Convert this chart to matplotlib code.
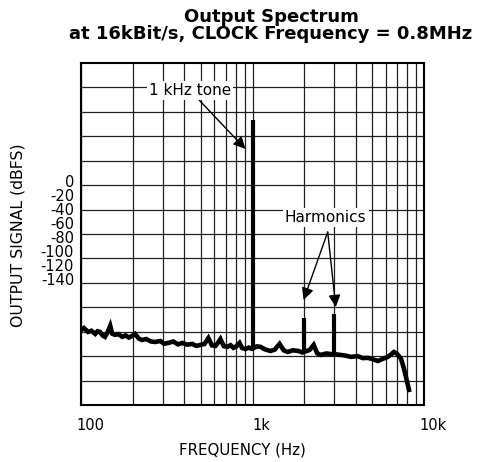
import numpy as np
import matplotlib
matplotlib.use("Agg")
import matplotlib.pyplot as plt
from matplotlib.ticker import FixedLocator, NullFormatter
from matplotlib.transforms import ScaledTranslation

plt.rcParams['font.family'] = ['DejaVu Sans']

# noise floor trace (Hz, dBFS)
noise_freq = [100, 104, 110, 115, 121, 125, 129, 134, 138, 143, 148, 152, 158, 165,
              174, 182, 190, 199, 207, 217, 227, 240, 256, 271, 290, 305, 323, 345,
              368, 390, 415, 446, 470, 497, 525, 553, 580, 608, 630, 650, 680, 714,
              745, 774, 805, 840, 870, 910, 950, 990, 1010, 1060, 1114, 1180, 1274,
              1350, 1438, 1520, 1602, 1720, 1858, 1950, 2050, 2150, 2274, 2380, 2498,
              2700, 2900, 3100, 3270, 3500, 3742, 4100, 4400, 4704, 5000, 5383, 5800,
              6159, 6450, 6676, 6950, 7337, 7600, 7848, 8000, 8172]
noise_db = [-109.3, -108.5, -110.1, -109.6, -110.9, -109.8, -110.1, -111.6, -112.1,
            -110.2, -107.6, -110.8, -111.3, -111.0, -112.1, -111.5, -112.4, -111.7,
            -110.9, -112.8, -113.4, -113.0, -114.0, -114.2, -113.8, -114.9, -114.6,
            -114.0, -115.2, -114.6, -115.3, -115.0, -115.8, -115.4, -115.0, -112.6,
            -115.6, -115.8, -114.5, -113.0, -115.9, -116.2, -115.5, -116.6, -116.0,
            -114.6, -116.7, -117.1, -116.5, -117.0, -116.8, -116.0, -116.2, -117.2,
            -117.9, -117.3, -115.0, -117.6, -118.3, -117.6, -117.9, -118.5, -118.0,
            -117.5, -115.4, -118.8, -119.5, -118.9, -119.2, -119.3, -119.5, -119.8,
            -120.3, -120.0, -120.8, -120.7, -121.2, -122.0, -121.0, -120.3, -119.2,
            -118.3, -119.0, -121.0, -124.5, -128.5, -131.0, -133.8]

# tone and harmonics
spike_freq = [1000, 2000, 3000]
spike_top = [-23.3, -104.4, -102.7]
spike_base = [-117.0, -118.2, -119.4]

ytick_labels = ['0', '-20', '-40', '-60', '-80', '-100', '-120', '-140']
xtick_vals = [100, 1000, 10000]
xtick_labels = ['100', '1k', '10k']

fig = plt.figure(figsize=(4.79, 4.62), dpi=100)
ax = fig.add_axes([81 / 479, 57 / 462, 343 / 479, 342 / 462])

ax.plot(noise_freq, noise_db, color='black', lw=3.3, solid_joinstyle='miter')
ax.vlines(spike_freq, spike_base, spike_top, color='black', lw=3)

ax.set_xscale('log')
ax.set_xlim(100, 10000)
ax.set_ylim(-140, 0)

# grid
minor_x = [m * d for d in (100, 1000) for m in range(2, 10)]
ax.xaxis.set_minor_locator(FixedLocator(minor_x))
ax.xaxis.set_minor_formatter(NullFormatter())
ax.set_xticks(xtick_vals, xtick_labels)
ax.yaxis.set_minor_locator(FixedLocator(np.arange(-130, 0, 10)))
ax.set_yticks(np.linspace(-48.3, -88.4, len(ytick_labels)), ytick_labels)
ax.grid(axis='x', which='both', color='#202020', lw=0.9)
ax.grid(axis='y', which='minor', color='#202020', lw=0.9)
ax.tick_params(which='both', length=0, labelsize=10.5)
ax.tick_params(axis='y', pad=5)
ax.tick_params(axis='x', pad=9)
for lbl in ax.get_xticklabels():
    lbl.set_transform(lbl.get_transform() + ScaledTranslation(9 / 100, 0, fig.dpi_scale_trans))
for s in ax.spines.values():
    s.set_linewidth(1.5)

box = dict(facecolor='white', edgecolor='none', pad=1.5)
arrow = dict(arrowstyle='-|>', color='black', lw=1, mutation_scale=18, shrinkA=0, shrinkB=0)
ax.annotate('1 kHz tone', xy=(910, -35.2), xytext=(433, -11.3), fontsize=11,
            ha='center', va='center', bbox=box, arrowprops=arrow)
ax.text(2673, -63.2, 'Harmonics', fontsize=11, ha='center', va='center', bbox=box)
for tip in [(1986, -97.0), (3058, -99.9)]:
    ax.annotate('', xy=tip, xytext=(2745, -69.2), arrowprops=arrow)

fig.text(271 / 479, 1 - 17.5 / 462, 'Output Spectrum', fontsize=13, fontweight='bold',
         ha='center', va='center')
fig.text(271 / 479, 1 - 34 / 462, 'at 16kBit/s, CLOCK Frequency = 0.8MHz', fontsize=13,
         fontweight='bold', ha='center', va='center')
fig.text(242 / 479, 1 - 450 / 462, 'FREQUENCY (Hz)', fontsize=10.8, ha='center', va='center')
fig.text(18 / 479, 1 - 235 / 462, 'OUTPUT SIGNAL (dBFS)', fontsize=11.3, rotation=90,
         ha='center', va='center')

fig.savefig('out.png', dpi=100)
